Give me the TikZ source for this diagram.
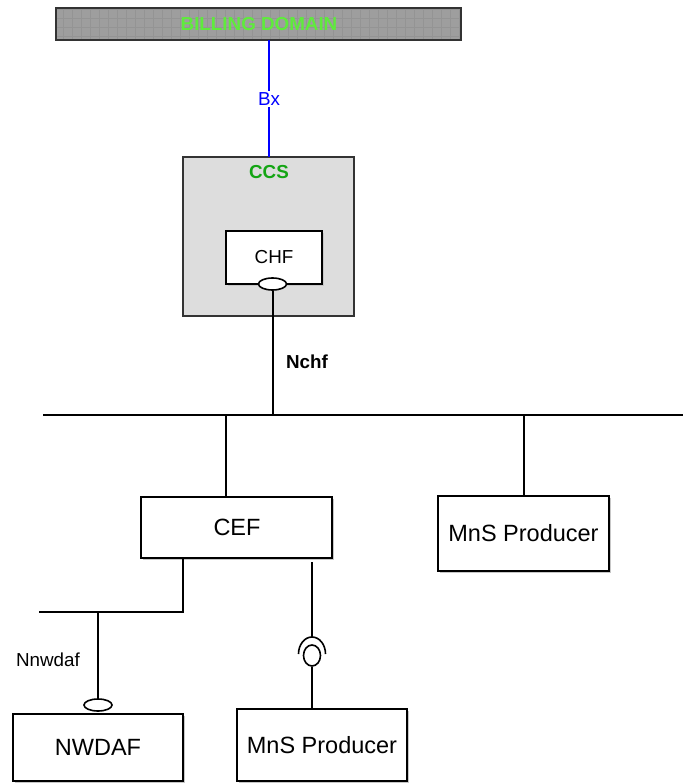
\documentclass[tikz,border=0pt]{standalone}
\usepackage{fontspec}
\setmainfont{Liberation Sans}
\usetikzlibrary{shapes.geometric,shadows}
\definecolor{billgreen}{RGB}{95,235,60}
\definecolor{ccsgreen}{RGB}{20,165,20}
\definecolor{barfill}{RGB}{158,158,158}
\definecolor{ccsfill}{RGB}{221,221,221}
\begin{document}
\begin{tikzpicture}[x=1pt,y=-1pt,
  line/.style={draw=black,line width=1.6pt},
  box/.style={draw=black,line width=1.6pt,fill=white,inner sep=0pt,
    drop shadow={shadow xshift=2pt,shadow yshift=-2pt,fill=black!22,opacity=1},
    font=\fontsize{23.5}{27}\selectfont},
  iface/.style={ellipse,draw=black,line width=1.6pt,fill=white,inner sep=0pt},
  small/.style={font=\fontsize{18.8}{22}\selectfont,inner sep=1pt},
  smallbold/.style={font=\fontsize{18.8}{22}\selectfont\bfseries,inner sep=1pt},
  blueline/.style={draw={rgb,255:red,0;green,0;blue,255},line width=2.6pt}
]
\useasboundingbox (0,0) rectangle (683,783);

% Billing domain bar
\node[fill=barfill,minimum width=405pt,minimum height=32pt,inner sep=0pt] (billing) at (258.5,24) {};
\begin{scope}
  \clip (billing.north west) rectangle (billing.south east);
  \draw[black!42,line width=0.3pt,step=9pt] (billing.south west) grid (billing.north east);
\end{scope}
\draw[black!80,line width=1.6pt] (billing.north west) rectangle (billing.south east);
\node[smallbold,text=billgreen] (billtxt) at (259,24) {BILLING DOMAIN};

% CCS
\node[draw=black!80,line width=1.4pt,fill=ccsfill,minimum width=171pt,minimum height=159pt,inner sep=0pt] (ccs) at (268.5,236.5) {};
\node[smallbold,text=ccsgreen] (ccstxt) at (269,172) {CCS};

% Bx link
\coordinate (bxtop) at (269,40);
\coordinate (bxbot) at (269,157);
\draw[blueline] (bxtop) -- (bxbot);
\node[small,fill=white,text={rgb,255:red,0;green,0;blue,255},inner sep=1.5pt] (bx) at (269,99) {Bx};

% CHF
\node[box,minimum width=96pt,minimum height=53pt,font=\fontsize{18.8}{22}\selectfont] (chf) at (274,257.5) {CHF};
\node[iface,minimum width=28pt,minimum height=12pt] (chfif) at (272.5,284) {};

% bus
\coordinate (busL) at (43,415);
\coordinate (busR) at (683,415);
\coordinate (jn) at (273,415);
\coordinate (jcef) at (226,415);
\coordinate (jmns) at (524,415);
\draw[line] (busL) -- (busR);
\draw[line] (chfif.south -| jn) -- (jn);
\node[smallbold] (nchf) at (307,362) {Nchf};

% CEF and MnS Producer (right)
\node[box,minimum width=191pt,minimum height=61pt] (cef) at (236.5,527.5) {};
\node[font=\fontsize{23.5}{27}\selectfont,inner sep=0pt] (ceftxt) at (237,527) {CEF};
\draw[line] (jcef) -- (jcef |- cef.north);
\node[box,minimum width=171pt,minimum height=75pt] (mns1) at (523.5,533.5) {MnS Producer};
\draw[line] (jmns) -- (jmns |- mns1.north);

% left lower bus
\coordinate (lbR) at (183,612);
\coordinate (lbL) at (39,612);
\coordinate (jnw) at (98,612);
\draw[line] (cef.south -| lbR) -- (lbR) -- (lbL);

% NWDAF
\node[box,minimum width=170pt,minimum height=67pt] (nwdaf) at (98,747.5) {NWDAF};
\node[iface,minimum width=28pt,minimum height=12pt] (nwif) at (98,705) {};
\draw[line] (jnw) -- (nwif.north);
\node[small] (nnwdaf) at (48,660) {Nnwdaf};

% MnS Producer (lower)
\node[box,minimum width=170pt,minimum height=72pt] (mns2) at (322,745) {MnS Producer};
\coordinate (rtop) at (312,562);
\coordinate (sock) at (312,637);
\node[iface,minimum width=17pt,minimum height=21pt] (mnsif) at (312,655.5) {};
\draw[line] (rtop) -- (sock);
\draw[line] (298.5,654) arc[start angle=180,end angle=0,x radius=13.5pt,y radius=17pt];
\draw[line] (mnsif.south) -- (mnsif.south |- mns2.north);
\end{tikzpicture}
\end{document}
